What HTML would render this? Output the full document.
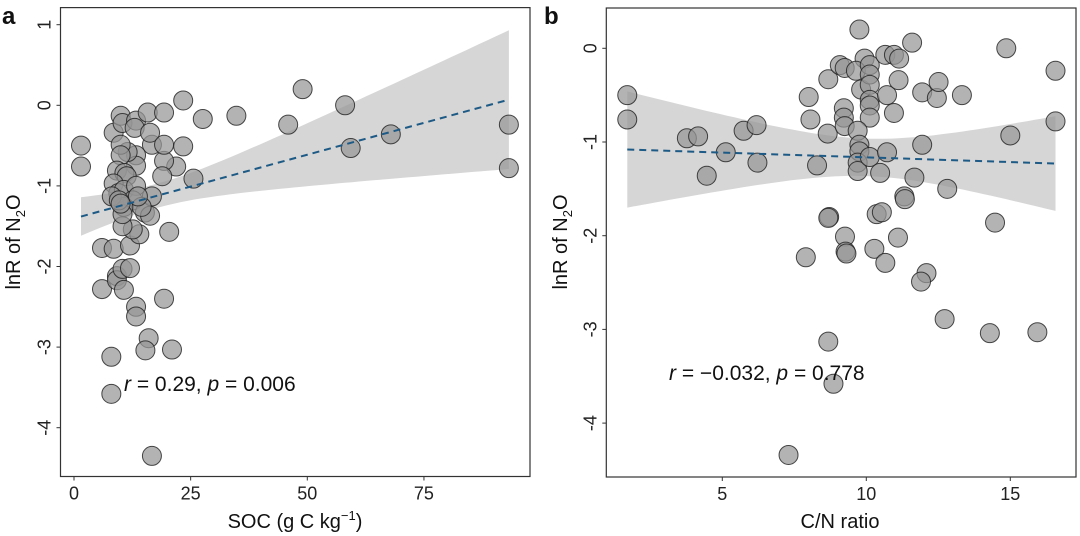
<!DOCTYPE html>
<html><head><meta charset="utf-8"><style>
html,body{margin:0;padding:0;background:#fff;}
svg{display:block;font-family:"Liberation Sans",Arial,sans-serif;}
</style></head><body>
<svg id="fig" width="1080" height="536" viewBox="0 0 1080 536"></svg>
<script>
// Panel a data (SOC vs lnR)
const socX = [1.5,1.5,6,6,8,8,8.5,9.2,9.2,10.7,10.4,12,12,13.3,13.3,14,12.6,10.4,16,15.3,21,19.3,20.4,16.7,8.5,10,10.4,13.3,13,15.8,19.3,23.4,27.6,34.8,45.9,49,58.1,59.3,67.9,93.2,93.2,25.6,23.4,21.9,19.3,18.9,16.7,16.3,19.3,13.3,13.3,11.5,10,10,9.2,10.8,11.3,8.5,9.5,10.7,13.3,12.6,10.7,10.4,15.2,16.3,16.7,14.5,13.7,8.1,9.6,10];
const socY = [-0.5,-0.76,-1.77,-2.28,-3.12,-3.58,-1.78,-2.12,-2.17,-2.29,-2.03,-2.02,-1.74,-2.5,-2.62,-1.6,-1.54,-1.5,-2.89,-3.04,-3.03,-2.4,-1.57,-4.35,-0.34,-0.13,-0.22,-0.19,-0.28,-0.09,-0.09,0.06,-0.17,-0.13,-0.24,0.2,0.0,-0.53,-0.36,-0.24,-0.78,-0.91,-0.51,-0.76,-0.69,-0.88,-0.49,-0.34,-0.49,-0.62,-0.75,-0.58,-0.49,-0.62,-0.81,-0.84,-0.88,-0.97,-1.09,-1.05,-1.0,-1.18,-1.26,-1.35,-1.33,-1.37,-1.13,-1.26,-1.13,-1.13,-1.18,-1.22];
const socTicksX = [0,25,50,75];
const socTicksY = [1,0,-1,-2,-3,-4];
const socFit = {x0:1.5, x1:93.2, y0:-1.38, y1:0.07, mean:18, a:0.0225, b:0.000127};
// Panel b data (C/N vs lnR)
const cnX = [1.7,1.7,3.77,4.16,4.46,5.12,5.74,6.19,6.22,8.0,8.06,8.29,8.68,8.66,8.71,8.68,8.68,8.86,7.3,7.9,9.08,9.25,9.22,9.22,9.25,9.26,9.28,9.31,9.76,9.94,9.64,9.82,10.12,10.12,10.12,10.12,10.12,10.12,9.7,9.76,9.76,9.7,9.7,10.12,10.48,10.72,10.36,10.54,10.28,10.66,10.66,10.96,11.14,11.59,10.72,11.12,10.96,11.32,11.34,11.67,11.1,11.94,11.94,12.09,11.9,12.45,12.51,13.32,12.81,12.72,14.47,14.29,14.86,15.0,15.94,16.57,16.57];
const cnY = [-0.5,-0.76,-0.96,-0.94,-1.36,-1.11,-0.88,-0.82,-1.22,-0.52,-0.76,-1.25,-0.33,-0.91,-1.8,-1.81,-3.13,-3.58,-4.34,-2.23,-0.18,-0.21,-0.64,-0.74,-0.83,-2.01,-2.17,-2.19,0.2,-0.11,-0.24,-0.44,-0.18,-0.28,-0.39,-0.55,-0.61,-0.74,-0.88,-1.03,-1.1,-1.22,-1.31,-1.16,-1.33,-1.11,-1.77,-1.75,-2.14,-2.29,-0.07,-0.07,-0.11,0.06,-0.5,-0.34,-0.69,-1.58,-1.61,-1.38,-2.02,-1.03,-0.47,-2.4,-2.49,-0.53,-0.36,-0.5,-1.5,-2.89,-1.86,-3.04,0.0,-0.93,-3.03,-0.24,-0.78];
const cnTicksX = [5,10,15];
const cnTicksY = [0,-1,-2,-3,-4];
const cnFit = {x0:1.7, x1:16.57, y0:-1.08, y1:-1.23, mean:10, a:0.04, b:0.005};

const NS="http://www.w3.org/2000/svg";
const svg=document.getElementById('fig');
function mk(tag,attrs,parent){const e=document.createElementNS(NS,tag);for(const k in attrs)e.setAttribute(k,attrs[k]);(parent||svg).appendChild(e);return e;}

function panel(cfg){
  const g=mk('g',{});
  
  
  const X=v=>cfg.xOrig+v*cfg.xs, Y=v=>cfg.yOrig-v*cfg.ys;
  const f=cfg.fit, n=60, up=[], lo=[];
  for(let i=0;i<=n;i++){const x=f.x0+(f.x1-f.x0)*i/n;const y=f.y0+(f.y1-f.y0)*(x-f.x0)/(f.x1-f.x0);const h=Math.sqrt(f.a+f.b*(x-f.mean)*(x-f.mean));up.push(X(x).toFixed(1)+','+Y(y+h).toFixed(1));lo.unshift(X(x).toFixed(1)+','+Y(y-h).toFixed(1));}
  const band=mk('polygon',{points:up.concat(lo).join(' '),fill:'#d6d6d6'},g);
  
  
  for(let i=0;i<cfg.xs_.length;i++){
    const c=mk('circle',{cx:X(cfg.xs_[i]),cy:Y(cfg.ys_[i]),r:9.5,fill:'rgba(150,150,150,0.72)',stroke:'rgba(30,30,30,0.8)','stroke-width':1},g);
    
    
  }
  const ln=mk('line',{x1:X(f.x0),y1:Y(f.y0),x2:X(f.x1),y2:Y(f.y1),stroke:'#1d5a85','stroke-width':2,'stroke-dasharray':'7,5'},g);
  
  
  const b=cfg.box;
  const r=mk('rect',{x:b[0],y:b[1],width:b[2]-b[0],height:b[3]-b[1],fill:'none',stroke:'#333','stroke-width':1.2},g);
  
  
  cfg.tx.forEach(t=>{
    mk('line',{x1:X(t),x2:X(t),y1:b[3],y2:b[3]+4,stroke:'#333'},g);
    const tt=mk('text',{x:X(t),y:b[3]+23,'text-anchor':'middle','font-size':18,fill:'#222'},g);
    tt.textContent=t;
    
    
  });
  cfg.ty.forEach(t=>{
    mk('line',{x1:b[0]-4,x2:b[0],y1:Y(t),y2:Y(t),stroke:'#333'},g);
    const tt=mk('text',{x:0,y:0,transform:`translate(${b[0]-10},${Y(t)}) rotate(-90)`,'text-anchor':'middle','font-size':18,fill:'#222'},g);
    tt.textContent=t;
    
    
  });
}
panel({name:'panel-a',xOrig:74,xs:4.666,yOrig:105.3,ys:80.6,box:[60.5,7.6,530,476.5],fit:socFit,xs_:socX,ys_:socY,tx:socTicksX,ty:socTicksY});
panel({name:'panel-b',xOrig:578.3,xs:28.8,yOrig:48.3,ys:93.7,box:[606.3,8,1076,477],fit:cnFit,xs_:cnX,ys_:cnY,tx:cnTicksX,ty:cnTicksY});
</script>
<svg style="position:absolute;left:0;top:0" width="1080" height="536">
<g font-family="Liberation Sans, Arial, sans-serif" fill="#111">
<text x="2" y="24" font-size="24" font-weight="bold">a</text>
<text x="544" y="24" font-size="24" font-weight="bold">b</text>
<text x="295" y="528" font-size="20" text-anchor="middle">SOC (g C kg<tspan font-size="13" dy="-8">−1</tspan><tspan dy="8">)</tspan></text>
<text x="840" y="528" font-size="20" text-anchor="middle">C/N ratio</text>
<text transform="translate(20,242) rotate(-90)" font-size="20" text-anchor="middle">lnR of N<tspan font-size="13" dy="5">2</tspan><tspan dy="-5">O</tspan></text>
<text transform="translate(567,242) rotate(-90)" font-size="20" text-anchor="middle">lnR of N<tspan font-size="13" dy="5">2</tspan><tspan dy="-5">O</tspan></text>
<text x="124" y="391" font-size="21"><tspan font-style="italic">r</tspan> = 0.29, <tspan font-style="italic">p</tspan> = 0.006</text>
<text x="669" y="380" font-size="21"><tspan font-style="italic">r</tspan> = −0.032, <tspan font-style="italic">p</tspan> = 0.778</text>
</g></svg>
</body></html>
